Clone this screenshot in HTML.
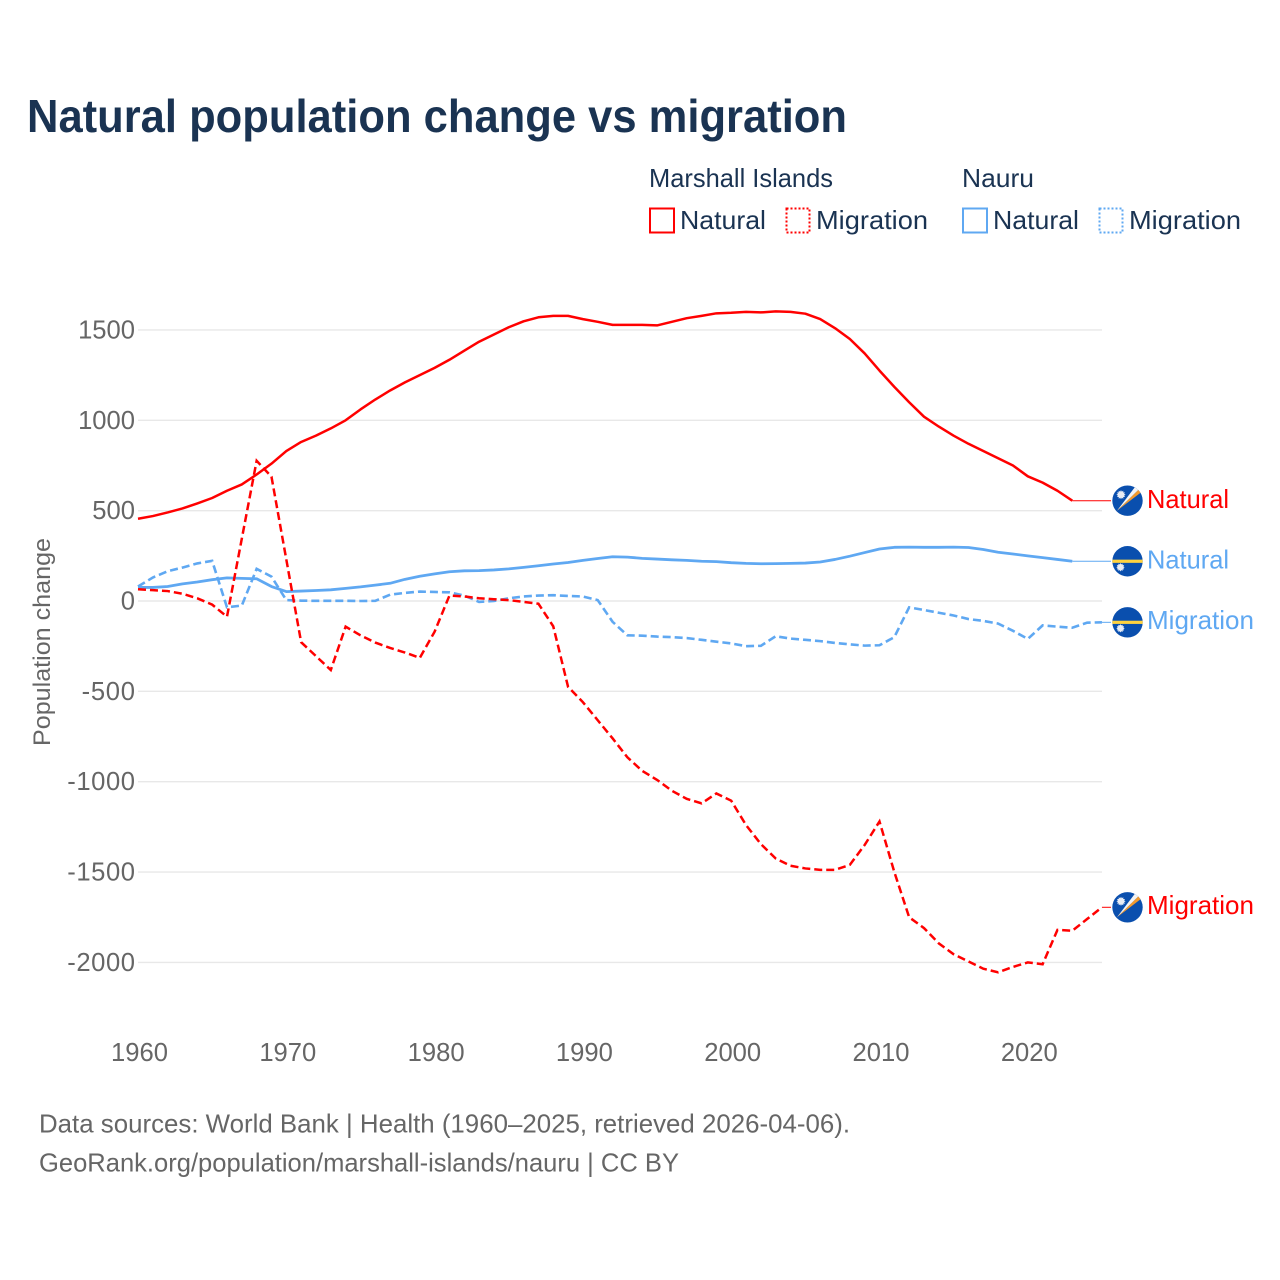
<!DOCTYPE html>
<html lang="en">
<head>
<meta charset="utf-8">
<title>Natural population change vs migration</title>
<style>
html,body{margin:0;padding:0;background:#fff;}
svg{display:block;font-family:"Liberation Sans",sans-serif;}
</style>
</head>
<body>
<svg id="chart" xmlns="http://www.w3.org/2000/svg" width="1280" height="1280" viewBox="0 0 1280 1280">
  <rect x="0" y="0" width="1280" height="1280" fill="#ffffff"/>
  <text x="27" y="132" font-size="46" font-weight="700" fill="#1a3352" textLength="820" lengthAdjust="spacingAndGlyphs">Natural population change vs migration</text>

  <g font-size="26" fill="#1a3352">
    <text x="649" y="187" textLength="184" lengthAdjust="spacingAndGlyphs">Marshall Islands</text>
    <text x="962" y="187" textLength="72" lengthAdjust="spacingAndGlyphs">Nauru</text>
    <rect x="650" y="208.5" width="24" height="24" fill="none" stroke="#ff0000" stroke-width="2"/>
    <text x="680" y="229" textLength="86" lengthAdjust="spacingAndGlyphs">Natural</text>
    <rect x="786.5" y="208.5" width="23" height="24" fill="none" stroke="#ff0000" stroke-width="2" stroke-dasharray="2 2"/>
    <text x="816" y="229" textLength="112" lengthAdjust="spacingAndGlyphs">Migration</text>
    <rect x="963" y="208.5" width="24" height="24" fill="none" stroke="#5fa8f2" stroke-width="2"/>
    <text x="993" y="229" textLength="86" lengthAdjust="spacingAndGlyphs">Natural</text>
    <rect x="1099.5" y="208.5" width="23" height="24" fill="none" stroke="#5fa8f2" stroke-width="2" stroke-dasharray="2 2"/>
    <text x="1129" y="229" textLength="112" lengthAdjust="spacingAndGlyphs">Migration</text>
  </g>

  <g id="grid"></g>
  <g id="yticks"></g>
  <g id="xticks"></g>
  <text transform="translate(50,642) rotate(-90)" text-anchor="middle" font-size="24" fill="#666666" textLength="208" lengthAdjust="spacingAndGlyphs">Population change</text>
  <g id="series"></g>
  <g id="endlabels"></g>

  <g font-size="26" fill="#666666">
    <text x="39" y="1132.5" textLength="811" lengthAdjust="spacingAndGlyphs">Data sources: World Bank | Health (1960–2025, retrieved 2026-04-06).</text>
    <text x="39" y="1171.5" textLength="640" lengthAdjust="spacingAndGlyphs">GeoRank.org/population/marshall-islands/nauru | CC BY</text>
  </g>
</svg>
<script>
const startYear = 1960;
const yTickValues = [1500, 1000, 500, 0, -500, -1000, -1500, -2000];
const xTickValues = [1960, 1970, 1980, 1990, 2000, 2010, 2020];

const marshallNatural = [455,470,490,512,540,570,610,645,700,760,830,880,915,955,1000,1060,1115,1165,1210,1250,1290,1335,1385,1435,1475,1515,1548,1570,1578,1578,1560,1545,1528,1528,1528,1525,1545,1565,1578,1592,1595,1600,1597,1603,1600,1590,1560,1510,1450,1370,1275,1185,1100,1020,965,915,870,830,790,750,690,655,610,555];
const marshallMigration = [65,60,55,40,15,-20,-87,345,776,688,230,-228,-305,-382,-142,-190,-230,-260,-285,-315,-170,30,25,15,10,5,-5,-15,-140,-475,-560,-660,-760,-865,-940,-990,-1050,-1095,-1120,-1065,-1105,-1240,-1345,-1425,-1465,-1480,-1488,-1488,-1460,-1350,-1220,-1500,-1750,-1810,-1895,-1955,-1995,-2035,-2055,-2025,-2000,-2010,-1820,-1825,-1760,-1695];
const nauruNatural = [75,75,80,95,105,118,128,125,123,80,52,55,58,62,70,78,88,98,120,137,150,162,167,168,172,178,186,195,205,213,225,235,245,243,236,232,228,225,220,218,212,208,206,207,208,210,216,230,248,268,288,297,298,297,297,298,296,285,270,260,250,240,230,220];
const nauruMigration = [80,130,165,185,208,222,-35,-25,178,135,5,2,1,1,1,0,1,35,45,52,50,48,30,-5,0,15,25,30,32,28,25,5,-115,-190,-192,-197,-200,-205,-215,-225,-235,-250,-248,-195,-208,-215,-222,-232,-240,-247,-245,-200,-35,-50,-65,-80,-100,-110,-125,-165,-210,-135,-142,-148,-120,-118];

const RED = '#ff0000';
const BLUE = '#5fa8f2';
const NS = 'http://www.w3.org/2000/svg';

function xScale(year) { return 138 + (year - startYear) * 14.83; }
function yScale(value) { return 601 - value * 0.1807; }

function make(tag, attrs, parent) {
  const el = document.createElementNS(NS, tag);
  for (const k in attrs) el.setAttribute(k, attrs[k]);
  parent.appendChild(el);
  return el;
}

const gridGroup = document.getElementById('grid');
const yTickGroup = document.getElementById('yticks');
yTickValues.forEach(function (v) {
  const line = make('line', {x1: 138, x2: 1102, y1: yScale(v), y2: yScale(v), stroke: '#e8e8e8', 'stroke-width': 1.4}, gridGroup);
  
  
  const label = make('text', {x: 135, y: yScale(v) + 8.5, 'text-anchor': 'end', 'font-size': 25.6, fill: '#666666'}, yTickGroup);
  
  
  label.textContent = String(v);
  if (v < 0) {
    label.setAttribute('textLength', (String(v).length - 1) * 14.3 + 10.5);
    label.setAttribute('lengthAdjust', 'spacing');
  }
});

const xTickGroup = document.getElementById('xticks');
xTickValues.forEach(function (year) {
  const label = make('text', {x: xScale(year) + 1.5, y: 1061, 'text-anchor': 'middle', 'font-size': 25.6, fill: '#666666'}, xTickGroup);
  
  
  label.textContent = String(year);
});

const LEADER_END = 1111;
function drawSeries(name, values, color, dashed, width) {
  const group = document.getElementById('series');
  const pts = values.map(function (v, i) { return xScale(startYear + i).toFixed(2) + ',' + yScale(v).toFixed(2); });
  const attrs = {points: pts.join(' '), fill: 'none', stroke: color, 'stroke-width': width, 'stroke-linejoin': dashed ? 'miter' : 'round'};
  if (dashed) attrs['stroke-dasharray'] = '8 4';
  const line = make('polyline', attrs, group);
  
  
  const last = values[values.length - 1];
  const leader = make('line', {x1: xScale(startYear + values.length - 1), x2: LEADER_END, y1: yScale(last), y2: yScale(last), stroke: color, 'stroke-width': 1}, group);
  
  
}

drawSeries('nauru-natural', nauruNatural, BLUE, false, 2.8);
drawSeries('nauru-migration', nauruMigration, BLUE, true, 2.6);
drawSeries('marshall-natural', marshallNatural, RED, false, 2.5);
drawSeries('marshall-migration', marshallMigration, RED, true, 2.5);

function starPoints(cx, cy, rOuter, rInner) {
  const out = [];
  for (let i = 0; i < 24; i++) {
    const r = i % 2 ? rInner : rOuter;
    const a = Math.PI * i / 12;
    out.push((cx + r * Math.cos(a)).toFixed(2) + ',' + (cy + r * Math.sin(a)).toFixed(2));
  }
  return out.join(' ');
}

let clipCount = 0;
function drawFlag(parent, country, cx, cy) {
  const id = 'flag-clip-' + (clipCount++);
  const clip = make('clipPath', {id: id}, parent);
  make('circle', {cx: cx, cy: cy, r: 15.2}, clip);
  const g = make('g', {'clip-path': 'url(#' + id + ')'}, parent);
  
  
  make('rect', {x: cx - 16, y: cy - 16, width: 32, height: 32, fill: '#0a4fae'}, g);
  if (country === 'marshall-islands') {
    make('polygon', {points: [cx - 10.5, cy + 10, cx + 17, cy - 11, cx + 14, cy - 14].join(','), fill: '#f29a2e'}, g);
    make('polygon', {points: [cx - 10.5, cy + 10, cx + 14, cy - 14, cx + 10, cy - 17].join(','), fill: '#f4f4f4'}, g);
    make('polygon', {points: starPoints(cx - 6.5, cy - 6, 4.6, 3.2), fill: '#e8ecf4'}, g);
  } else {
    make('rect', {x: cx - 16, y: cy - 1.6, width: 32, height: 3.2, fill: '#ffd23f'}, g);
    make('polygon', {points: starPoints(cx - 7, cy + 6, 4.2, 3), fill: '#e8ecf4'}, g);
  }
}

function drawEndLabel(name, country, text, values, color, textWidth) {
  const parent = document.getElementById('endlabels');
  const y = yScale(values[values.length - 1]);
  drawFlag(parent, country, 1127.5, y);
  const label = make('text', {x: 1147, y: y + (text === 'Migration' ? 6.5 : 7.5), 'font-size': 26, fill: color, textLength: textWidth, lengthAdjust: 'spacingAndGlyphs'}, parent);
  
  
  label.textContent = text;
}

drawEndLabel('marshall-natural', 'marshall-islands', 'Natural', marshallNatural, RED, 82);
drawEndLabel('nauru-natural', 'nauru', 'Natural', nauruNatural, BLUE, 82);
drawEndLabel('nauru-migration', 'nauru', 'Migration', nauruMigration, BLUE, 107);
drawEndLabel('marshall-migration', 'marshall-islands', 'Migration', marshallMigration, RED, 107);
</script>
</body>
</html>
